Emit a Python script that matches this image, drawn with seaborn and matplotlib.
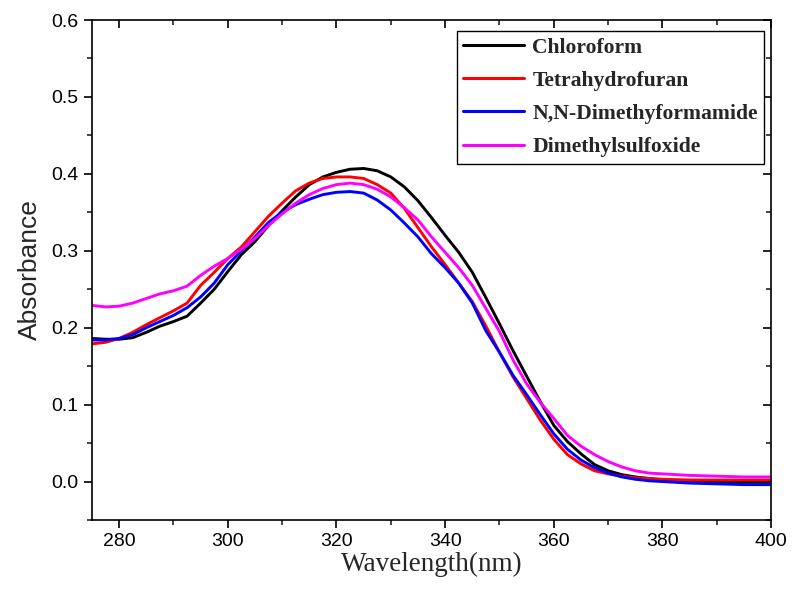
import numpy as np
import pandas as pd
import matplotlib
matplotlib.use("Agg")
import matplotlib.pyplot as plt
import seaborn as sns
from matplotlib.ticker import MultipleLocator

wavelength = [275, 277.5, 280, 282.5, 285, 287.5, 290, 292.5, 295, 297.5,
              300, 302.5, 305, 307.5, 310, 312.5, 315, 317.5, 320, 322.5,
              325, 327.5, 330, 332.5, 335, 337.5, 340, 342.5, 345, 347.5,
              350, 352.5, 355, 357.5, 360, 362.5, 365, 367.5, 370, 372.5,
              375, 377.5, 380, 385, 390, 395, 400]

chloroform = [0.186, 0.185, 0.185, 0.187, 0.194, 0.202, 0.208, 0.215, 0.232, 0.250,
              0.273, 0.295, 0.312, 0.333, 0.352, 0.370, 0.386, 0.396, 0.402, 0.406,
              0.407, 0.404, 0.396, 0.383, 0.365, 0.343, 0.320, 0.298, 0.272, 0.239,
              0.205, 0.170, 0.137, 0.104, 0.073, 0.052, 0.036, 0.022, 0.014, 0.009,
              0.006, 0.004, 0.002, 0.000, -0.001, -0.001, -0.001]

thf = [0.179, 0.181, 0.186, 0.194, 0.204, 0.213, 0.222, 0.232, 0.255, 0.272,
       0.290, 0.305, 0.325, 0.345, 0.362, 0.378, 0.388, 0.394, 0.396, 0.396,
       0.394, 0.386, 0.375, 0.355, 0.330, 0.305, 0.282, 0.258, 0.234, 0.202,
       0.168, 0.136, 0.108, 0.080, 0.055, 0.035, 0.023, 0.014, 0.010, 0.007,
       0.005, 0.004, 0.003, 0.002, 0.002, 0.002, 0.002]

dmf = [0.184, 0.184, 0.186, 0.191, 0.200, 0.208, 0.216, 0.226, 0.240, 0.258,
       0.282, 0.300, 0.318, 0.337, 0.350, 0.360, 0.367, 0.373, 0.376, 0.377,
       0.375, 0.366, 0.353, 0.336, 0.318, 0.296, 0.278, 0.258, 0.232, 0.196,
       0.168, 0.138, 0.113, 0.087, 0.062, 0.042, 0.028, 0.018, 0.011, 0.006,
       0.003, 0.001, 0.000, -0.002, -0.003, -0.004, -0.004]

dmso = [0.229, 0.227, 0.228, 0.232, 0.238, 0.244, 0.248, 0.254, 0.268, 0.280,
        0.290, 0.302, 0.316, 0.333, 0.348, 0.362, 0.373, 0.381, 0.386, 0.388,
        0.386, 0.380, 0.370, 0.356, 0.340, 0.318, 0.298, 0.278, 0.255, 0.225,
        0.195, 0.158, 0.127, 0.103, 0.082, 0.060, 0.046, 0.035, 0.026, 0.019,
        0.014, 0.011, 0.010, 0.008, 0.007, 0.006, 0.006]

solvents = ["Chloroform", "Tetrahydrofuran", "N,N-Dimethyformamide", "Dimethylsulfoxide"]
colors = ["#000000", "#ff0000", "#0000ff", "#ff00ff"]
series = [chloroform, thf, dmf, dmso]

df = pd.concat([pd.DataFrame({"Wavelength": wavelength, "Absorbance": s, "Solvent": n})
                for n, s in zip(solvents, series)], ignore_index=True)

sns.set_style("ticks")
plt.rcParams['font.family'] = ['Liberation Sans', 'DejaVu Sans']

fig = plt.figure(figsize=(7.95, 5.92), dpi=100)
ax = fig.add_axes([0.1157, 0.1216, 0.8543, 0.8446])

sns.lineplot(data=df, x="Wavelength", y="Absorbance", hue="Solvent",
             hue_order=solvents, palette=dict(zip(solvents, colors)),
             linewidth=2.1, ax=ax, legend=False)

ax.set_xlim(275, 400)
ax.set_ylim(-0.05, 0.6)
ax.xaxis.set_major_locator(MultipleLocator(20))
ax.xaxis.set_minor_locator(MultipleLocator(10))
ax.yaxis.set_major_locator(MultipleLocator(0.1))
ax.yaxis.set_minor_locator(MultipleLocator(0.05))
ax.set_xticks(np.arange(280, 401, 20))

for sp in ax.spines.values():
    sp.set_visible(True)
    sp.set_linewidth(1.2)
    sp.set_color("black")

ax.tick_params(axis="both", which="major", direction="out", length=6, width=1.2,
               labelsize=14, colors="black")
ax.tick_params(axis="both", which="minor", direction="out", length=3.5, width=1.2)
ax.xaxis.set_tick_params(which="both", top=True, labeltop=False)
ax.yaxis.set_tick_params(which="both", right=True, labelright=False)
for t in ax.xaxis.get_major_ticks() + ax.xaxis.get_minor_ticks():
    t.tick2line.set_marker(matplotlib.lines.TICKDOWN)
for t in ax.yaxis.get_major_ticks() + ax.yaxis.get_minor_ticks():
    t.tick2line.set_marker(matplotlib.lines.TICKLEFT)
ax.set_yticklabels([f"{v:.1f}" for v in ax.get_yticks()])

ax.set_xlabel("Wavelength(nm)", fontsize=19.5, family=["Liberation Serif", "DejaVu Serif"], labelpad=1)
ax.set_ylabel("Absorbance", fontsize=19, labelpad=7)

handles = [matplotlib.lines.Line2D([], [], color=c, lw=2.2) for c in colors]
leg = ax.legend(handles, solvents, loc="upper right", bbox_to_anchor=(0.99, 0.978),
                prop={"family": ["Liberation Serif", "DejaVu Serif"], "weight": "bold", "size": 15.6},
                frameon=True, fancybox=False, edgecolor="black", framealpha=1,
                handlelength=2.8, handletextpad=0.4, borderpad=0.3, labelspacing=0.6,
                borderaxespad=0)
leg.get_frame().set_linewidth(1.0)

fig.savefig("out.png", dpi=100)
